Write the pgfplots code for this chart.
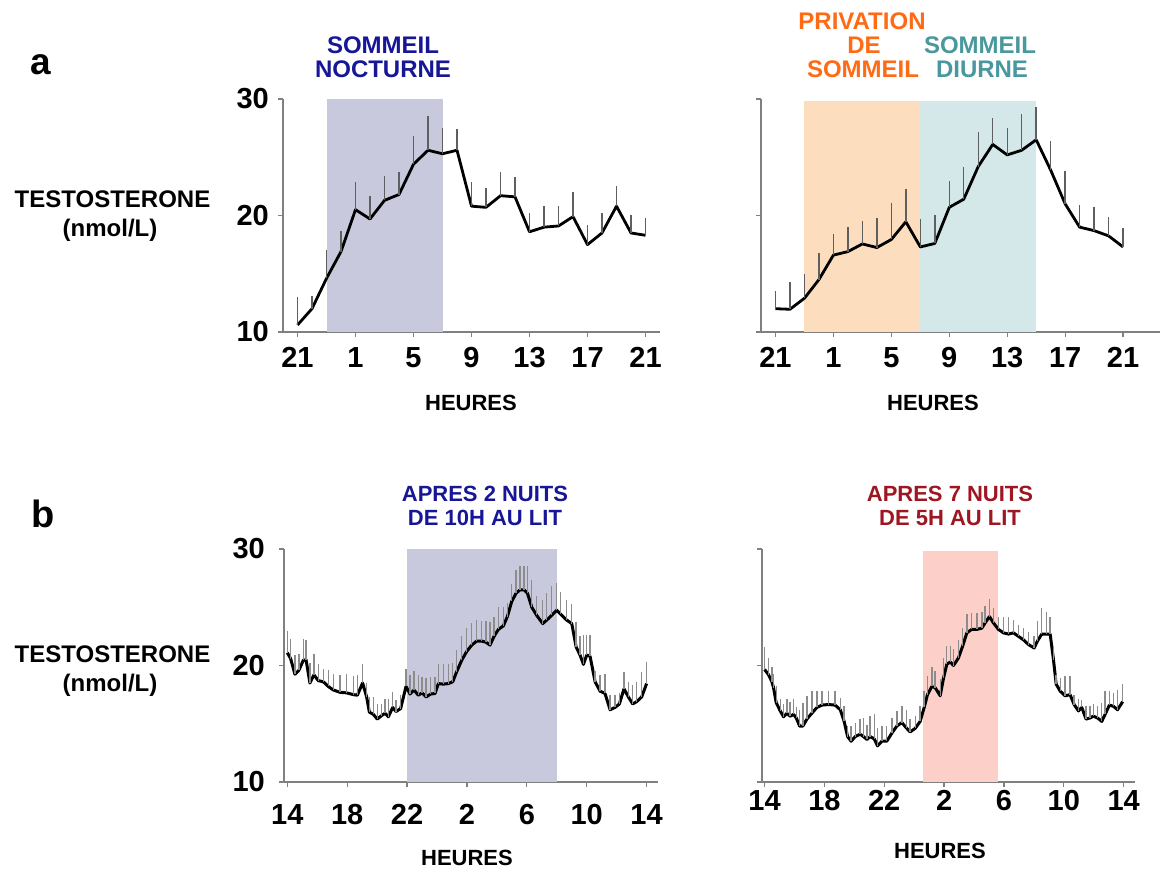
\documentclass[border=0pt]{standalone}
\usepackage{fontspec}
\setmainfont{Liberation Sans}
\usepackage{pgfplots}
\pgfplotsset{compat=1.18}
\usepackage{pgfplotstable}

\definecolor{navyT}{RGB}{22,22,150}
\definecolor{orangeT}{RGB}{255,106,20}
\definecolor{tealT}{RGB}{72,152,158}
\definecolor{redT}{RGB}{158,22,34}
\definecolor{shadeLav}{RGB}{200,201,221}
\definecolor{shadeOr}{RGB}{252,221,190}
\definecolor{shadeTeal}{RGB}{212,232,234}
\definecolor{shadePink}{RGB}{252,208,200}
\definecolor{axgray}{RGB}{128,128,128}
\definecolor{errA}{RGB}{95,95,95}
\definecolor{errB}{RGB}{140,140,140}

% panel a left: hours after 21h, value, upper error
\pgfplotstableread{
x y e
0 10.6 2.4
1 12.0 1.1
2 14.6 2.4
3 16.9 1.8
4 20.5 2.4
5 19.7 2.0
6 21.3 2.1
7 21.8 1.9
8 24.4 2.4
9 25.6 2.9
10 25.3 2.2
11 25.6 1.8
12 20.8 2.1
13 20.7 1.7
14 21.7 2.0
15 21.6 1.7
16 18.6 1.6
17 19.0 1.8
18 19.1 1.7
19 19.9 2.1
20 17.5 1.7
21 18.5 1.7
22 20.8 1.7
23 18.5 1.5
24 18.3 1.5
}\tabAL

\pgfplotstableread{
x y e
0 12.0 1.5
1 11.95 2.3
2 12.9 2.1
3 14.5 2.3
4 16.6 1.8
5 16.9 2.1
6 17.56 2.0
7 17.25 2.5
8 17.94 3.1
9 19.46 2.8
10 17.3 2.4
11 17.6 2.4
12 20.7 2.3
13 21.4 2.8
14 24.2 3.0
15 26.1 2.3
16 25.2 2.3
17 25.6 3.1
18 26.5 2.8
19 23.9 2.5
20 21.0 2.8
21 19.0 1.9
22 18.7 2.0
23 18.25 1.65
24 17.3 1.6
}\tabAR

% panel b left: hours after 14h
\pgfplotstableread{
x y e
0 21.1 1.9
0.22 20.6 1.7
0.51 19.25 1.65
0.78 19.6 1.4
1.07 20.45 1.85
1.25 20.5 1.7
1.51 18.5 1.7
1.78 19.2 1.8
2.07 18.7 1.4
2.41 18.6 1.1
2.74 18.2 1.4
3.07 17.9 1.4
3.52 17.7 1.5
3.96 17.65 1.6
4.41 17.5 1.6
4.68 17.45 1.7
5.03 18.5 1.6
5.30 17.3 1.2
5.48 16.0 1.3
5.75 15.8 1.5
6.01 15.4 1.3
6.30 15.7 1.0
6.53 15.9 1.2
6.75 15.6 1.5
7.04 16.4 1.3
7.26 16.05 1.0
7.57 16.3 1.2
7.93 18.2 1.5
8.20 17.55 1.6
8.46 17.9 1.6
8.75 17.45 1.7
9.00 17.65 1.4
9.27 17.3 1.6
9.58 17.55 1.5
9.87 17.6 1.4
10.09 18.45 1.65
10.42 18.4 1.7
10.76 18.45 1.65
11.05 18.6 1.6
11.31 19.45 1.85
11.65 20.45 2.1
11.98 21.2 2.0
12.32 21.75 1.9
12.65 22.1 1.8
12.98 22.1 1.7
13.27 22.0 1.8
13.54 21.75 2.0
13.81 22.5 1.7
14.10 23.1 1.9
14.43 23.4 1.6
14.70 24.2 1.2
14.99 25.5 1.5
15.28 26.2 2.0
15.55 26.5 2.0
15.81 26.5 2.0
16.04 26.2 2.3
16.33 25.0 2.3
16.66 24.3 1.7
17.06 23.6 2.0
17.33 23.9 2.3
17.66 24.3 2.5
18.00 24.75 2.3
18.26 24.4 1.9
18.66 23.9 1.7
19.00 23.6 1.7
19.29 21.6 2.1
19.55 20.9 1.6
19.78 20.1 2.5
20.00 20.9 1.7
20.22 20.8 1.8
20.56 18.6 0.9
20.89 17.8 1.4
21.22 17.6 1.7
21.56 16.2 1.25
21.89 16.4 1.1
22.18 16.7 0.9
22.49 18.0 1.45
22.78 17.3 1.3
23.07 16.7 1.6
23.34 16.9 1.7
23.67 17.3 2.1
24.00 18.45 1.85
}\tabBL

\pgfplotstableread{
x y e
0 19.66 1.9
0.27 19.2 1.45
0.49 18.6 1.3
0.60 18.1 1.2
0.78 16.8 1.4
1.05 16.1 1.0
1.27 15.6 1.1
1.49 15.9 1.2
1.71 15.65 1.2
1.94 15.8 1.3
2.12 15.5 0.9
2.34 14.8 1.4
2.56 14.8 2.0
2.83 15.4 2.0
3.16 15.9 1.9
3.50 16.4 1.4
3.83 16.6 1.2
4.28 16.65 1.2
4.72 16.6 1.2
5.06 16.2 1.0
5.32 15.2 1.3
5.55 13.9 0.9
5.79 13.5 1.3
6.06 13.9 1.2
6.39 14.1 1.3
6.61 13.9 1.6
6.84 13.65 1.2
7.06 13.9 1.8
7.33 13.7 2.1
7.55 13.1 1.5
7.84 13.5 1.3
8.17 13.5 1.3
8.51 14.2 1.3
8.84 14.8 1.3
9.18 15.1 1.4
9.47 14.65 1.55
9.73 14.3 1.1
10.07 14.6 1.1
10.40 15.2 1.3
10.67 16.4 1.4
10.89 17.5 1.6
11.18 18.2 1.7
11.40 18.1 1.4
11.74 17.4 1.4
11.96 18.9 1.76
12.18 20.1 1.56
12.41 20.3 1.4
12.63 20.0 1.4
12.96 20.65 1.55
13.25 21.7 1.5
13.52 22.8 1.6
13.85 23.1 1.4
14.19 23.1 1.4
14.52 23.2 1.4
14.74 23.65 1.5
15.03 24.2 1.5
15.30 23.65 1.25
15.63 23.1 1.1
15.97 22.8 1.4
16.30 22.7 1.5
16.64 22.8 1.1
16.97 22.5 1.0
17.31 22.2 1.0
17.64 21.8 1.1
18.02 21.5 1.0
18.24 22.1 1.7
18.53 22.7 2.2
18.86 22.7 1.9
19.09 22.7 1.5
19.31 20.5 1.2
19.49 18.4 0.8
19.76 17.8 1.1
20.09 17.4 1.7
20.42 17.5 1.6
20.69 16.65 0.85
20.98 16.1 1.0
21.20 16.4 0.6
21.49 15.4 1.1
21.76 15.5 1.0
21.98 15.65 1.05
22.25 15.5 1.0
22.54 15.2 1.6
22.76 15.8 2.0
23.05 16.6 1.2
23.32 16.5 1.15
23.59 16.2 1.7
23.94 16.9 1.5
}\tabBR

\pgfplotsset{
  panel/.style={
    scale only axis, height=233pt,
    axis lines=left, axis line style={-, axgray, line width=1.2pt},
    tick align=outside, major tick length=5pt,
    tick style={axgray, line width=1.2pt},
    ymin=10, ymax=30, ytick={10,20,30},
    clip=false,
    ticklabel style={font=\fontsize{29}{30}\selectfont\bfseries, inner sep=0pt, black},
  },
  serA/.style={black, line width=2.8pt, line join=round, no marks,
    error bars/.cd, y dir=plus, y explicit, error mark=none,
    error bar style={errA, line width=1.4pt}},
  serB/.style={black, line width=3pt, line join=round, no marks,
    error bars/.cd, y dir=plus, y explicit, error mark=none,
    error bar style={errB, line width=1.4pt}},
}

\begin{document}
\begin{tikzpicture}
\path[use as bounding box] (0pt,0pt) rectangle (1162pt,868pt);

% ---------- panel a left
\begin{axis}[panel, at={(283pt,536pt)}, anchor=south west, width=377pt,
  xmin=-1, xmax=25, xtick={0,4,...,24}, xticklabels={21,1,5,9,13,17,21},
  yticklabels={10,20,30},
  xticklabel style={anchor=north, yshift=-10pt},
  yticklabel style={anchor=east, xshift=-9pt}]
\addplot[draw=none, fill=shadeLav] coordinates {(2,10) (10,10) (10,30) (2,30)} -- cycle;
\addplot[serA] table[x=x, y=y, y error=e] {\tabAL};
\end{axis}

% ---------- panel a right
\begin{axis}[panel, at={(761pt,536pt)}, anchor=south west, width=399pt,
  xmin=-1, xmax=26.55, xtick={0,4,...,24}, xticklabels={21,1,5,9,13,17,21},
  yticklabels={},
  xticklabel style={anchor=north, yshift=-10pt}]
\addplot[draw=none, fill=shadeOr] coordinates {(2,10) (10,10) (10,29.8) (2,29.8)} -- cycle;
\addplot[draw=none, fill=shadeTeal] coordinates {(10,10) (18,10) (18,29.8) (10,29.8)} -- cycle;
\addplot[serA] table[x=x, y=y, y error=e] {\tabAR};
\end{axis}

% ---------- panel b left
\begin{axis}[panel, at={(284pt,86pt)}, anchor=south west, width=374pt,
  xmin=-0.22, xmax=24.76, xtick={0,4,...,24}, xticklabels={14,18,22,2,6,10,14},
  yticklabels={10,20,30},
  xticklabel style={anchor=north, yshift=-17pt},
  yticklabel style={anchor=east, xshift=-14pt}]
\addplot[draw=none, fill=shadeLav] coordinates {(8,10) (18,10) (18,30) (8,30)} -- cycle;
\addplot[serB] table[x=x, y=y, y error=e] {\tabBL};
\end{axis}

% ---------- panel b right
\begin{axis}[panel, at={(762pt,86pt)}, anchor=south west, width=373pt,
  xmin=-0.17, xmax=24.76, xtick={0,4,...,24}, xticklabels={14,18,22,2,6,10,14},
  yticklabels={},
  xticklabel style={anchor=north, yshift=-3pt}]
\addplot[draw=none, fill=shadePink] coordinates {(10.62,10) (15.59,10) (15.59,29.8) (10.62,29.8)} -- cycle;
\addplot[serB] table[x=x, y=y, y error=e] {\tabBR};
\end{axis}

% ---------- texts
\begin{scope}[every node/.style={inner sep=0pt, anchor=base}]
\node[anchor=base west, font=\fontsize{37}{37}\selectfont\bfseries] at (30pt,793pt) {a};
\node[anchor=base west, font=\fontsize{38}{38}\selectfont\bfseries] at (31pt,340pt) {b};

\node[font=\fontsize{24}{24}\selectfont\bfseries] at (112.5pt,660pt) {TESTOSTERONE};
\node[font=\fontsize{24}{24}\selectfont\bfseries] at (110pt,631pt) {(nmol/L)};
\node[font=\fontsize{24}{24}\selectfont\bfseries] at (112.5pt,205pt) {TESTOSTERONE};
\node[font=\fontsize{24}{24}\selectfont\bfseries] at (110pt,176pt) {(nmol/L)};

\node[font=\fontsize{24}{24}\selectfont\bfseries, navyT] at (383pt,814pt) {SOMMEIL};
\node[font=\fontsize{24}{24}\selectfont\bfseries, navyT] at (383pt,790pt) {NOCTURNE};

\node[font=\fontsize{24}{24}\selectfont\bfseries, orangeT] at (862pt,838pt) {PRIVATION};
\node[font=\fontsize{24}{24}\selectfont\bfseries, orangeT] at (864pt,814pt) {DE};
\node[font=\fontsize{24}{24}\selectfont\bfseries, orangeT] at (863pt,790pt) {SOMMEIL};
\node[font=\fontsize{24}{24}\selectfont\bfseries, tealT] at (980pt,814pt) {SOMMEIL};
\node[font=\fontsize{24}{24}\selectfont\bfseries, tealT] at (982pt,790pt) {DIURNE};

\node[font=\fontsize{22}{22}\selectfont\bfseries, navyT] at (485pt,366pt) {APRES 2 NUITS};
\node[font=\fontsize{22}{22}\selectfont\bfseries, navyT] at (485pt,342pt) {DE 10H AU LIT};
\node[font=\fontsize{22}{22}\selectfont\bfseries, redT] at (950pt,366pt) {APRES 7 NUITS};
\node[font=\fontsize{22}{22}\selectfont\bfseries, redT] at (950pt,342pt) {DE 5H AU LIT};

\node[font=\fontsize{22}{22}\selectfont\bfseries] at (471pt,457pt) {HEURES};
\node[font=\fontsize{22}{22}\selectfont\bfseries] at (933pt,457pt) {HEURES};
\node[font=\fontsize{22}{22}\selectfont\bfseries] at (467pt,3pt) {HEURES};
\node[font=\fontsize{22}{22}\selectfont\bfseries] at (940pt,10pt) {HEURES};
\end{scope}
\end{tikzpicture}
\end{document}
